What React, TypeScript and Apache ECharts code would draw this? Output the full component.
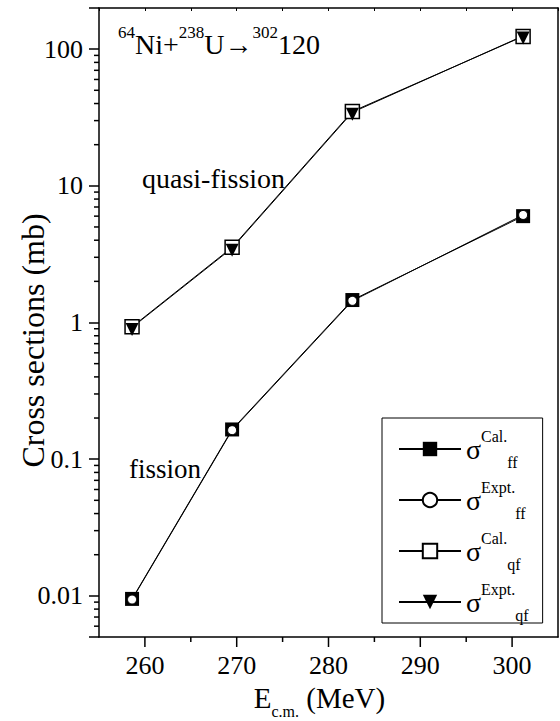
import { useEffect, useRef } from 'react';
import * as echarts from 'echarts';

// ---- data ----
const energies = [258.6, 269.5, 282.6, 301.2];
const calFF = [0.0095, 0.165, 1.46, 6.0];
const exptFF = [0.0094, 0.163, 1.44, 6.12];
const calQF = [0.93, 3.55, 35.0, 124];
const exptQF = [0.92, 3.5, 34.5, 125];

const seriesNames = ['σ Cal. ff', 'σ Expt. ff', 'σ Cal. qf', 'σ Expt. qf'];
const legendSup = ['Cal.', 'Expt.', 'Cal.', 'Expt.'];
const legendSub = ['ff', 'ff', 'qf', 'qf'];

const xMajorTicks = [260, 270, 280, 290, 300];
const xMinorTicks = [265, 275, 285, 295];
const yMajorTicks = [0.01, 0.1, 1, 10, 100];
const yTickLabels = ['0.01', '0.1', '1', '10', '100'];
const yMinorTicks = [
  0.006, 0.007, 0.008, 0.009,
  0.02, 0.03, 0.04, 0.05, 0.06, 0.07, 0.08, 0.09,
  0.2, 0.3, 0.4, 0.5, 0.6, 0.7, 0.8, 0.9,
  2, 3, 4, 5, 6, 7, 8, 9,
  20, 30, 40, 50, 60, 70, 80, 90,
];

const X_MIN = 255;
const X_MAX = 305;
const Y_MIN = 0.005;
const Y_MAX = 200;

const FONT = "'Liberation Serif', 'Times New Roman', Times, serif";
const AXIS_W = 1.5;

function tickSeries(data: number[][], dx: number, dy: number) {
  return {
    type: 'custom',
    silent: true,
    clip: false,
    z: 10,
    data,
    renderItem: (_params: any, api: any) => {
      const p = api.coord([api.value(0), api.value(1)]);
      return {
        type: 'line',
        shape: { x1: p[0], y1: p[1], x2: p[0] + dx, y2: p[1] + dy },
        style: { stroke: '#000', lineWidth: AXIS_W },
      };
    },
  };
}

export default function App() {
  const ref = useRef<HTMLDivElement>(null);

  useEffect(() => {
    if (!ref.current) return;
    const chart = echarts.init(ref.current, undefined, { renderer: 'svg' });

    const lineSeries = (name: string, values: number[], symbol: string, size: number, fill: string, extra: any = {}) => ({
      name,
      type: 'line',
      data: energies.map((e, i) => [e, values[i]]),
      symbol,
      symbolSize: size,
      showAllSymbol: true,
      lineStyle: { color: '#000', width: 1 },
      itemStyle: { color: fill, borderColor: '#000', borderWidth: fill === '#fff' ? 1.5 : 0 },
      z: 3,
      ...extra,
    });

    chart.setOption({
      animation: false,
      backgroundColor: '#fff',
      textStyle: { fontFamily: FONT, color: '#000' },
      grid: { left: 99, right: 2, top: 8, bottom: 84, containLabel: false, outerBoundsMode: 'none' },
      xAxis: [
        {
          type: 'value',
          position: 'bottom',
          min: X_MIN,
          max: X_MAX,
          interval: 5,
          axisLine: { show: true, lineStyle: { color: '#000', width: AXIS_W } },
          axisTick: { show: false },
          splitLine: { show: false },
          axisLabel: {
            margin: 15,
            color: '#000',
            fontFamily: FONT,
            fontSize: 26,
            formatter: (v: number) => (xMajorTicks.includes(v) ? String(v) : ''),
          },
          name: '{m|E}{s|c.m.}{m| (MeV)}',
          nameLocation: 'middle',
          nameGap: 46,
          nameMoveOverlap: false,
          nameTextStyle: {
            color: '#000',
            fontFamily: FONT,
            fontSize: 29,
            padding: [0, 18, 0, 0],
            rich: {
              m: { fontSize: 29, fontFamily: FONT, color: '#000', lineHeight: 36, verticalAlign: 'top' },
              s: { fontSize: 16, fontFamily: FONT, color: '#000', verticalAlign: 'bottom' },
            },
          },
        },
        {
          type: 'value',
          position: 'top',
          min: X_MIN,
          max: X_MAX,
          interval: 5,
          axisLine: { show: true, lineStyle: { color: '#000', width: AXIS_W } },
          axisTick: { show: true, inside: true, length: 3, lineStyle: { color: '#000', width: 1 } },
          axisLabel: { show: false },
          splitLine: { show: false },
        },
      ],
      yAxis: [
        {
          type: 'log',
          logBase: 10,
          position: 'left',
          min: Y_MIN,
          max: Y_MAX,
          axisLine: { show: true, lineStyle: { color: '#000', width: AXIS_W } },
          axisTick: { show: true, inside: false, length: 10, lineStyle: { color: '#000', width: AXIS_W } },
          splitLine: { show: false },
          minorTick: { show: false },
          axisLabel: {
            margin: 16,
            color: '#000',
            fontFamily: FONT,
            fontSize: 26,
            formatter: (v: number) => {
              const i = yMajorTicks.findIndex((t) => Math.abs(Math.log10(t) - Math.log10(v)) < 1e-6);
              return i >= 0 ? yTickLabels[i] : '';
            },
          },
          name: 'Cross sections (mb)',
          nameLocation: 'middle',
          nameRotate: 90,
          nameGap: 50,
          nameMoveOverlap: false,
          nameTextStyle: { color: '#000', fontFamily: FONT, fontSize: 32, padding: [0, 36, 0, 0] },
        },
        {
          type: 'log',
          logBase: 10,
          position: 'right',
          min: Y_MIN,
          max: Y_MAX,
          axisLine: { show: true, lineStyle: { color: '#000', width: AXIS_W } },
          axisTick: { show: false },
          axisLabel: { show: false },
          splitLine: { show: false },
        },
      ],
      legend: {
        data: seriesNames,
        orient: 'vertical',
        left: 382,
        top: 418,
        padding: [10, 14, 0, 16],
        itemWidth: 62,
        itemHeight: 18,
        itemGap: 9,
        selectedMode: false,
        borderColor: '#000',
        borderWidth: 1,
        backgroundColor: '#fff',
        formatter: (name: string) => {
          const i = seriesNames.indexOf(name);
          return `{g|σ}{p|${legendSup[i]}}{b|${legendSub[i]}}`;
        },
        textStyle: {
          color: '#000',
          fontFamily: FONT,
          rich: {
            g: { fontSize: 28, fontFamily: FONT, color: '#000', lineHeight: 42, verticalAlign: 'middle' },
            p: { fontSize: 16, fontFamily: FONT, color: '#000', verticalAlign: 'top' },
            b: { fontSize: 16, fontFamily: FONT, color: '#000', verticalAlign: 'bottom' },
          },
        },
      },
      graphic: [
        {
          type: 'text',
          left: 118,
          top: 24,
          silent: true,
          style: {
            text: '{a|64}{b|Ni+}{a|238}{b|U→}{a|302}{b|120}',
            fill: '#000',
            fontFamily: FONT,
            fontSize: 28,
            rich: {
              a: { fontSize: 17, fontFamily: FONT, fill: '#000', verticalAlign: 'top' },
              b: { fontSize: 28, fontFamily: FONT, fill: '#000', lineHeight: 34, verticalAlign: 'bottom' },
            },
          },
        },
        {
          type: 'text',
          left: 142,
          top: 164,
          silent: true,
          style: { text: 'quasi-fission', fill: '#000', fontFamily: FONT, fontSize: 28 },
        },
        {
          type: 'text',
          left: 129,
          top: 455,
          silent: true,
          style: { text: 'fission', fill: '#000', fontFamily: FONT, fontSize: 27 },
        },
      ],
      series: [
        lineSeries(seriesNames[0], calFF, 'rect', 14, '#000'),
        lineSeries(seriesNames[1], exptFF, 'circle', 9, '#fff', { itemStyle: { color: '#fff', borderColor: '#000', borderWidth: 1 } }),
        lineSeries(seriesNames[2], calQF, 'rect', 14, '#fff'),
        lineSeries(seriesNames[3], exptQF, 'triangle', 13, '#000', { symbolRotate: 180, symbolOffset: [0, 2] }),
        tickSeries(xMajorTicks.map((v) => [v, Y_MIN]), 0, 10),
        tickSeries(xMinorTicks.map((v) => [v, Y_MIN]), 0, 5),
        tickSeries(yMinorTicks.map((v) => [X_MIN, v]), -5, 0),
      ],
    });

    return () => chart.dispose();
  }, []);

  return (
    <div
      ref={ref}
      style={{ position: 'absolute', left: 0, top: 0, width: 560, height: 721 }}
    />
  );
}
